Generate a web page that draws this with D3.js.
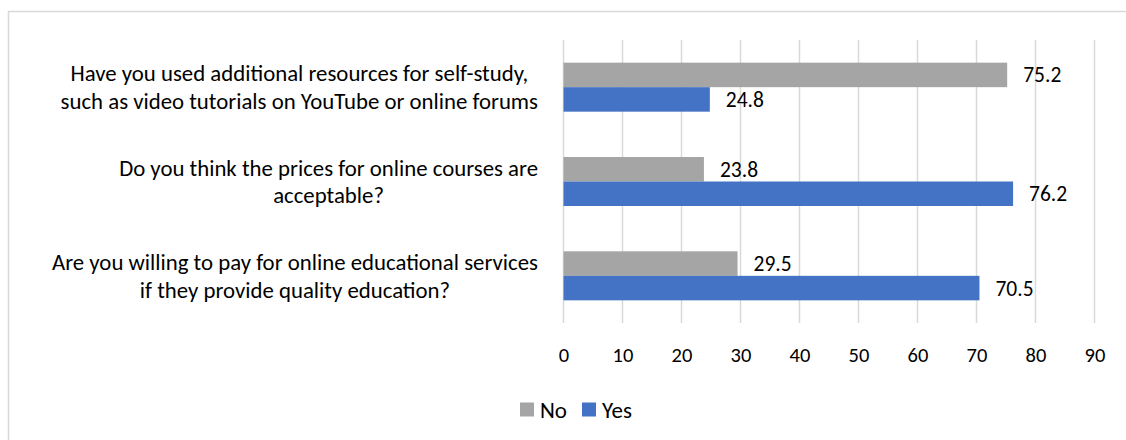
<!DOCTYPE html>
<html>
<head>
<meta charset="utf-8">
<script src="https://cdn.jsdelivr.net/npm/d3@7"></script>
<style>
  html, body { margin: 0; padding: 0; background: #fff; }
  svg { display: block; }
  text { font-family: Carlito, Calibri, Lato, "Open Sans", sans-serif; fill: #000; }
</style>
</head>
<body>
<svg id="chart" width="1126" height="440"></svg>
<script>
const categories = [
  ["Have you used additional resources for self-study,", "such as video tutorials on YouTube or online forums"],
  ["Do you think the prices for online courses are", "acceptable?"],
  ["Are you willing to pay for online educational services", "if they provide quality education?"]
];
const seriesNames = ["No", "Yes"];
const noValues = [75.2, 23.8, 29.5];
const yesValues = [24.8, 76.2, 70.5];
const tickValues = [0, 10, 20, 30, 40, 50, 60, 70, 80, 90];
const colors = ["#a5a5a5", "#4472c4"];

const svg = d3.select("#chart");
const FONT = "Carlito, Calibri, Lato, 'Open Sans', sans-serif";

// chart border
svg.append("rect")
  .attr("x", 8.5).attr("y", 11.5)
  .attr("width", 1200).attr("height", 500)
  .attr("fill", "none").attr("stroke", "#d9d9d9").attr("stroke-width", 1.5);

const plot = { left: 563.5, right: 1094.5, top: 40, bottom: 323 };

const x = d3.scaleLinear().domain([0, 90]).range([plot.left, plot.right]);
const catIdx = categories.map((d, i) => i);
const y = d3.scaleBand().domain(catIdx).range([plot.top, plot.bottom]).paddingInner(0).paddingOuter(0);
const inner = d3.scaleBand().domain(seriesNames).range([0, 49]);

// gridlines
svg.append("g").selectAll("line").data(tickValues).join("line")
  .attr("x1", d => x(d)).attr("x2", d => x(d))
  .attr("y1", plot.top).attr("y2", plot.bottom)
  .attr("stroke", "#d9d9d9").attr("stroke-width", 1.5);

// x axis tick labels
const xAxis = d3.axisBottom(x).tickValues(tickValues).tickSize(0).tickPadding(0);
const gx = svg.append("g").attr("transform", `translate(0, ${plot.bottom})`).call(xAxis);
gx.select(".domain").remove();
gx.selectAll("text")
  .attr("dy", null)
  .attr("y", 39)
  .style("font-family", FONT)
  .style("font-size", "20.5px")
  .attr("fill", "#000");

// bars
const rows = categories.map((c, i) => ({
  i,
  vals: [ { s: "No", v: noValues[i] }, { s: "Yes", v: yesValues[i] } ]
}));

const groups = svg.append("g").selectAll("g").data(rows).join("g")
  .attr("transform", d => `translate(0, ${y(d.i) + (y.bandwidth() - 49) / 2})`);

groups.selectAll("rect").data(d => d.vals).join("rect")
  .attr("x", x(0))
  .attr("y", d => inner(d.s))
  .attr("width", d => x(d.v) - x(0))
  .attr("height", inner.bandwidth())
  .attr("fill", (d, j) => colors[j]);

groups.selectAll("text.val").data(d => d.vals).join("text")
  .attr("class", "val")
  .attr("x", d => x(d.v) + 16)
  .attr("y", d => inner(d.s) + inner.bandwidth() / 2)
  .attr("dy", "0.35em")
  .style("font-size", "21.5px")
  .text(d => d.v.toFixed(1));

// category labels: one text per category, centred lines, block right-aligned
const labelG = svg.append("g");
const lineGap = 27.5;
rows.forEach(r => {
  const lines = categories[r.i];
  const cy = y(r.i) + y.bandwidth() / 2;
  const t = labelG.append("text")
    .attr("text-anchor", "middle")
    .style("font-size", "22.8px");
  const spans = lines.map((ln, k) => t.append("tspan")
    .attr("y", cy + (k - (lines.length - 1) / 2) * lineGap)
    .attr("dy", "0.35em")
    .text(ln));
  const w = d3.max(spans, s => s.node().getComputedTextLength());
  const right = 538;
  spans.forEach(s => s.attr("x", right - w / 2));
});

// legend
const legend = svg.append("g");
const legItems = seriesNames.map((s, j) => ({ s, c: colors[j] }));
let lx = 520;
legItems.forEach(it => {
  legend.append("rect").attr("x", lx).attr("y", 402.5).attr("width", 14).attr("height", 14).attr("fill", it.c);
  const t = legend.append("text").attr("x", lx + 20).attr("y", 409.5).attr("dy", "0.35em")
    .style("font-size", "23px").text(it.s);
  lx += 20 + t.node().getComputedTextLength() + 15;
});
</script>
</body>
</html>
